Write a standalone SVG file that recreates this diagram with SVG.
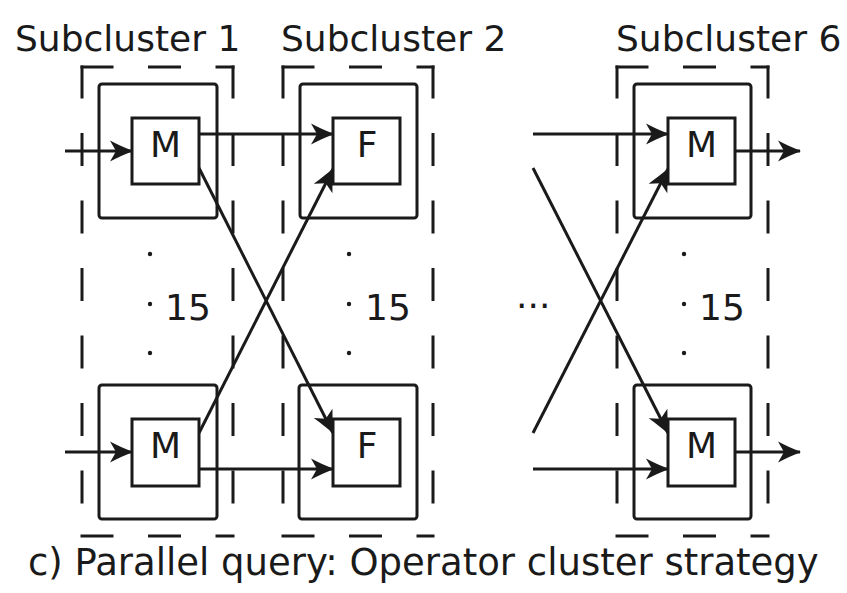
<svg xmlns="http://www.w3.org/2000/svg" width="847" height="593" viewBox="0 0 847 593">
  <style>
    .lbl { font-family: "DejaVu Sans", "Liberation Sans", sans-serif; font-size: 36px; fill: #1a1a1a; }
    .cap { font-family: "DejaVu Sans", "Liberation Sans", sans-serif; font-size: 37px; fill: #1a1a1a; }
    .dash { stroke: #1a1a1a; stroke-width: 3; stroke-dasharray: 30 37.5; stroke-linecap: square; fill: none; }
    .outer { stroke: #1a1a1a; stroke-width: 3; fill: none; }
    .inner { stroke: #1a1a1a; stroke-width: 3; fill: #fff; }
    .wire { stroke: #1a1a1a; stroke-width: 3; fill: none; }
    .arr { marker-end: url(#head); }
    .dot { fill: #1a1a1a; }
  </style>
  <defs>
    <marker id="head" markerUnits="userSpaceOnUse" viewBox="-24 -12 26 24" refX="0" refY="0" markerWidth="26" markerHeight="24" orient="auto" overflow="visible">
      <path d="M1,0 C-7,-3 -15,-7 -22,-10.5 L-16,0 L-22,10.5 C-15,7 -7,3 1,0 Z" fill="#1a1a1a"/>
    </marker>
  </defs>
  <rect width="847" height="593" fill="#fff"/>

  <!-- headings -->
  <text class="lbl" x="15" y="51">Subcluster 1</text>
  <text class="lbl" x="281" y="51">Subcluster 2</text>
  <text class="lbl" x="616" y="51">Subcluster 6</text>

  <!-- subcluster 1 -->
  <g id="subcluster1">
    <line class="dash" x1="82" y1="67" x2="233" y2="67"/>
    <line class="dash" x1="82" y1="536" x2="233" y2="536"/>
    <line class="dash" x1="82" y1="67" x2="82" y2="536"/>
    <line class="dash" x1="233" y1="67" x2="233" y2="536"/>
    <circle class="dot" cx="150" cy="254" r="2.2"/>
    <circle class="dot" cx="150" cy="304" r="2.2"/>
    <circle class="dot" cx="150" cy="353" r="2.2"/>
    <text class="lbl" x="165" y="320">15</text>
  </g>
  <g id="node-m1-top">
    <rect class="outer" x="99" y="84" width="118" height="134" rx="3"/>
    <rect class="inner" x="132" y="118" width="67" height="66"/>
    <text class="lbl" x="165.5" y="157" text-anchor="middle">M</text>
  </g>
  <g id="node-m1-bottom">
    <rect class="outer" x="99" y="385" width="118" height="134" rx="3"/>
    <rect class="inner" x="132" y="419" width="67" height="67"/>
    <text class="lbl" x="165.5" y="458" text-anchor="middle">M</text>
  </g>

  <!-- subcluster 2 -->
  <g id="subcluster2">
    <line class="dash" x1="283" y1="67" x2="433" y2="67"/>
    <line class="dash" x1="283" y1="536" x2="433" y2="536"/>
    <line class="dash" x1="283" y1="67" x2="283" y2="536"/>
    <line class="dash" x1="433" y1="67" x2="433" y2="536"/>
    <circle class="dot" cx="349" cy="254" r="2.2"/>
    <circle class="dot" cx="349" cy="304" r="2.2"/>
    <circle class="dot" cx="349" cy="353" r="2.2"/>
    <text class="lbl" x="365" y="320">15</text>
  </g>
  <g id="node-f2-top">
    <rect class="outer" x="300" y="84" width="117" height="134" rx="3"/>
    <rect class="inner" x="333" y="118" width="67" height="66"/>
    <text class="lbl" x="367" y="157" text-anchor="middle">F</text>
  </g>
  <g id="node-f2-bottom">
    <rect class="outer" x="299" y="385" width="118" height="134" rx="3"/>
    <rect class="inner" x="333" y="419" width="67" height="67"/>
    <text class="lbl" x="367" y="458" text-anchor="middle">F</text>
  </g>

  <!-- ellipsis between subclusters -->
  <text class="lbl" x="516" y="318">···</text>

  <!-- subcluster 6 -->
  <g id="subcluster6">
    <line class="dash" x1="617" y1="67" x2="768" y2="67"/>
    <line class="dash" x1="617" y1="536" x2="768" y2="536"/>
    <line class="dash" x1="617" y1="67" x2="617" y2="536"/>
    <line class="dash" x1="768" y1="67" x2="768" y2="536"/>
    <circle class="dot" cx="684" cy="254" r="2.2"/>
    <circle class="dot" cx="684" cy="304" r="2.2"/>
    <circle class="dot" cx="684" cy="353" r="2.2"/>
    <text class="lbl" x="699" y="320">15</text>
  </g>
  <g id="node-m6-top">
    <rect class="outer" x="634" y="84" width="117" height="134" rx="3"/>
    <rect class="inner" x="668" y="118" width="67" height="66"/>
    <text class="lbl" x="701.5" y="157" text-anchor="middle">M</text>
  </g>
  <g id="node-m6-bottom">
    <rect class="outer" x="634" y="385" width="117" height="134" rx="3"/>
    <rect class="inner" x="668" y="419" width="67" height="67"/>
    <text class="lbl" x="701.5" y="458" text-anchor="middle">M</text>
  </g>

  <!-- connectors -->
  <g id="connectors">
    <line class="wire arr" x1="65" y1="151" x2="132" y2="151"/>
    <line class="wire arr" x1="65" y1="452" x2="132" y2="452"/>
    <line class="wire arr" x1="199" y1="134" x2="333" y2="134"/>
    <line class="wire arr" x1="199" y1="168" x2="333" y2="433"/>
    <line class="wire arr" x1="199" y1="433" x2="333" y2="169"/>
    <line class="wire arr" x1="199" y1="469" x2="333" y2="469"/>

    <line class="wire arr" x1="533" y1="134" x2="668" y2="134"/>
    <line class="wire arr" x1="533" y1="168" x2="668" y2="433"/>
    <line class="wire arr" x1="533" y1="433" x2="668" y2="169"/>
    <line class="wire arr" x1="533" y1="469" x2="668" y2="469"/>
    <line class="wire arr" x1="735" y1="151" x2="800" y2="151"/>
    <line class="wire arr" x1="735" y1="452" x2="800" y2="452"/>
  </g>

  <!-- caption -->
  <text class="cap" x="28" y="575">c) Parallel query: Operator cluster strategy</text>
</svg>
